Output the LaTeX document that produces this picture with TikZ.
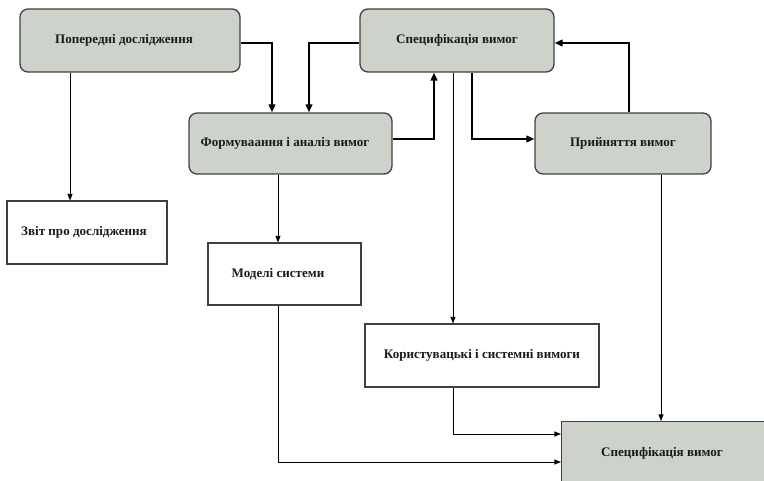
\documentclass[tikz,border=0pt]{standalone}
\usepackage{fontspec}
\setmainfont{Liberation Serif}
\usetikzlibrary{arrows.meta}
\definecolor{boxgray}{HTML}{CDD3CA}
\definecolor{edgegray}{HTML}{404040}
\definecolor{inkdark}{HTML}{1A1A1A}
\begin{document}
\begin{tikzpicture}[x=0.75pt,y=-0.75pt,
  every node/.style={font=\fontsize{9.8}{11}\selectfont\bfseries, text=inkdark, inner sep=0pt},
  stagebox/.style={draw=edgegray, line width=1pt, fill=boxgray, rounded corners=6pt},
  docbox/.style={draw=edgegray, line width=0.8pt, fill=white},
  flowthick/.style={line width=1.9pt, -{Triangle[length=6pt,width=5pt]}},
  flowthin/.style={line width=0.7pt, -{Triangle[length=5pt,width=3.8pt]}}
]
\useasboundingbox (0,0) rectangle (764,481);

% process stages (rounded, grey); some captions sit slightly left of centre
\node[stagebox, minimum width=165pt, minimum height=47.25pt] (prelim) at (130,40.5) {};
\node (prelimtext) at (124,40.5) {Попередні дослідження};
\node[stagebox, minimum width=145.5pt, minimum height=47.25pt] (spec) at (457,40.5) {Специфікація вимог};
\node[stagebox, minimum width=152.25pt, minimum height=45.75pt] (elicit) at (290.5,143.5) {};
\node (elicittext) at (285,143.5) {Формуваання і аналіз вимог};
\node[stagebox, minimum width=132pt, minimum height=45.75pt] (accept) at (623,143.5) {Прийняття вимог};

% documents produced (plain rectangles)
\node[docbox, minimum width=120pt, minimum height=47.25pt] (report) at (87,232.5) {};
\node (reporttext) at (84,232.5) {Звіт про дослідження};
\node[docbox, minimum width=114.75pt, minimum height=46.5pt] (models) at (284.5,274) {};
\node (modelstext) at (278,274) {Моделі системи};
\node[docbox, minimum width=175.5pt, minimum height=47.25pt] (reqs) at (482,355.5) {Користувацькі і системні вимоги};
\node[draw=edgegray, line width=0.8pt, fill=boxgray, minimum width=165pt, minimum height=60pt, anchor=north west] (specdoc) at (561,421) {};
\node (specdoctext) at (662,453) {Специфікація вимог};

% bend positions of the connectors
\coordinate (xA) at (272,0);
\coordinate (xB) at (309,0);
\coordinate (xC) at (434,0);
\coordinate (xD) at (472,0);
\coordinate (xE) at (629,0);
\coordinate (xF) at (70,0);
\coordinate (xG) at (278,0);
\coordinate (xH) at (453,0);
\coordinate (xI) at (661,0);
\coordinate (yJ) at (0,434);
\coordinate (yK) at (0,462);
\coordinate (yL) at (0,43);
\coordinate (yM) at (0,139);

% main iteration loop
\draw[flowthick] (prelim.east |- yL) -| (elicit.north -| xA);
\draw[flowthick] (spec.west |- yL) -| (elicit.north -| xB);
\draw[flowthick] (elicit.east |- yM) -| (spec.south -| xC);
\draw[flowthick] (spec.south -| xD) |- (accept.west |- yM);
\draw[flowthick] (accept.north -| xE) |- (spec.east |- yL);

% outputs
\draw[flowthin] (prelim.south -| xF) -- (report.north -| xF);
\draw[flowthin] (elicit.south -| xG) -- (models.north -| xG);
\draw[flowthin] (spec.south -| xH) -- (reqs.north -| xH);
\draw[flowthin] (accept.south -| xI) -- (specdoc.north -| xI);
\draw[flowthin] (reqs.south -| xH) |- (specdoc.west |- yJ);
\draw[flowthin] (models.south -| xG) |- (specdoc.west |- yK);
\end{tikzpicture}
\end{document}
